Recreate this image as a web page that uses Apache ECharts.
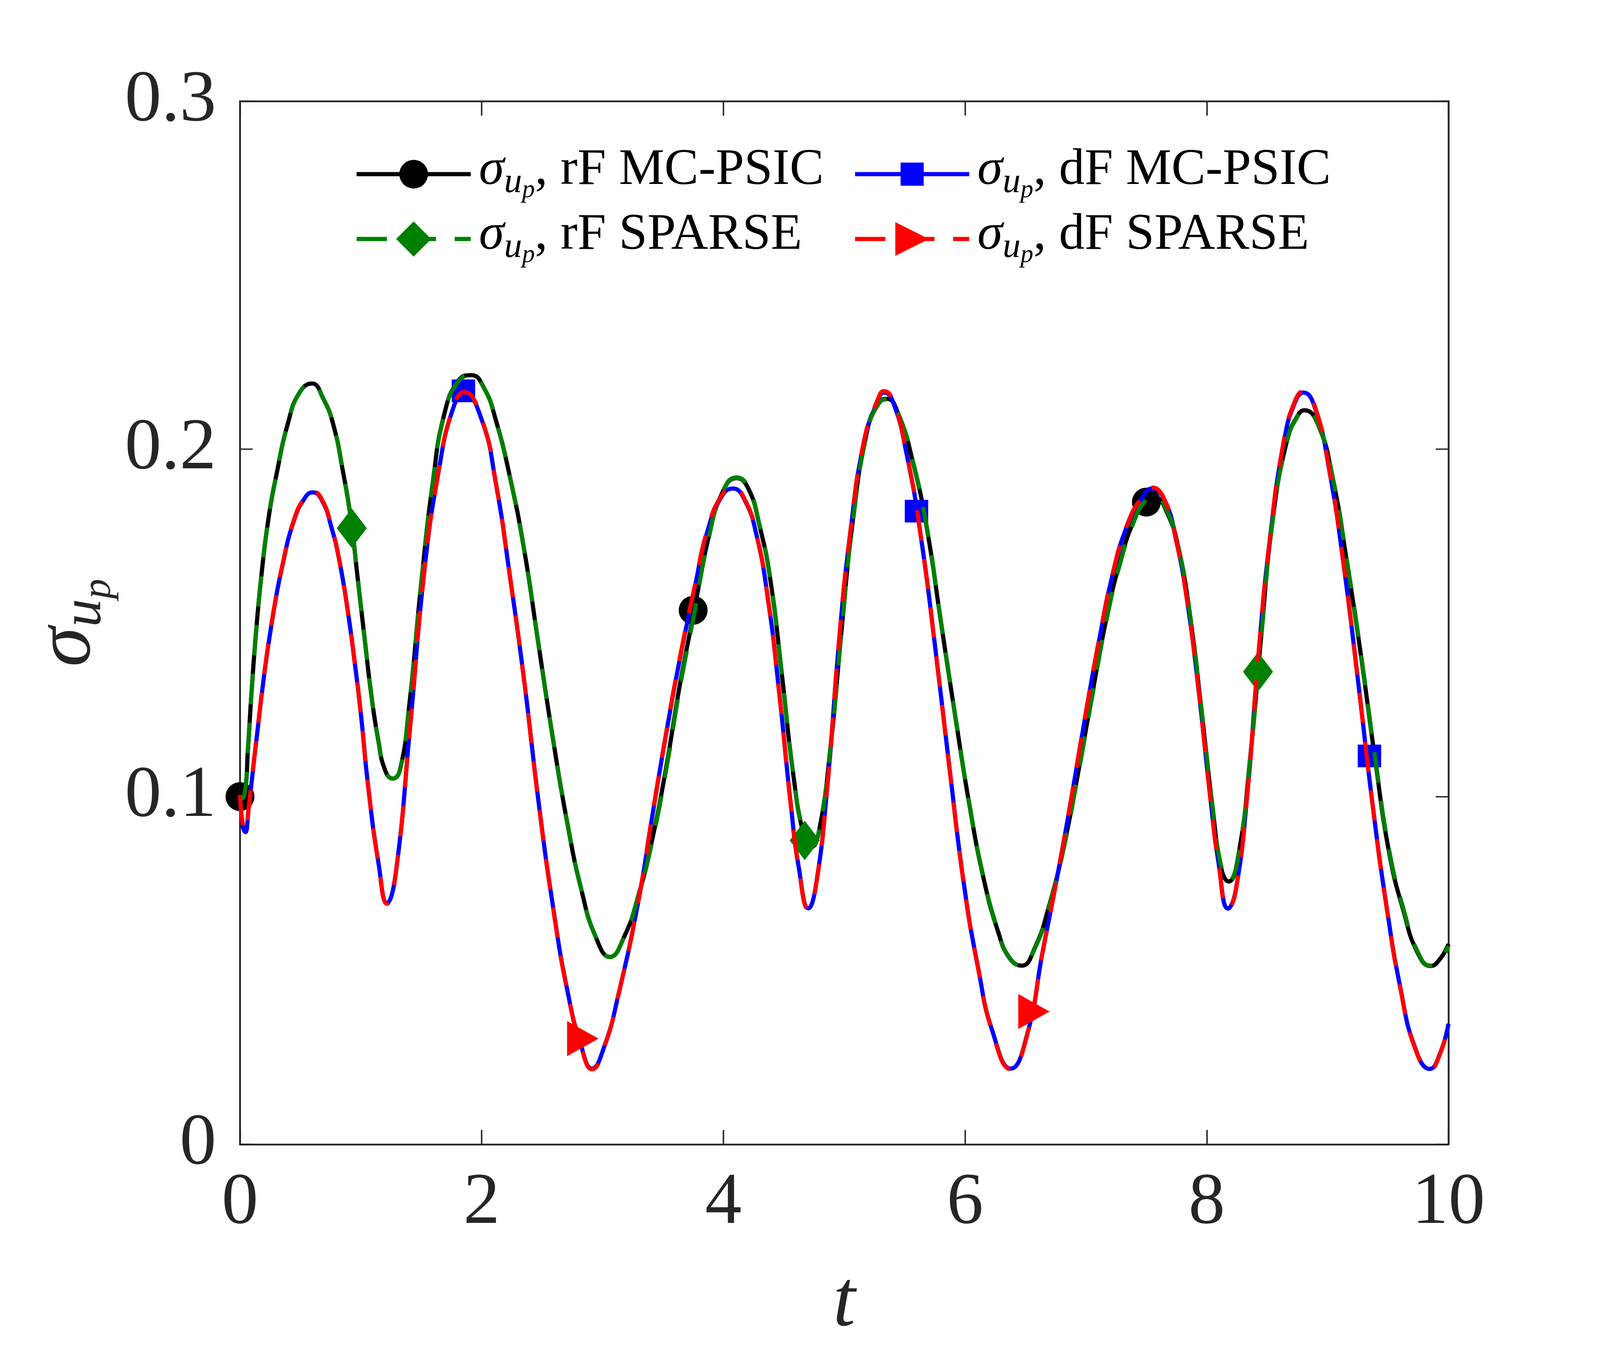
<!DOCTYPE html>
<html>
<head>
<meta charset="utf-8">
<script src="https://cdn.jsdelivr.net/npm/echarts@6/dist/echarts.min.js"></script>
<style>
html,body{margin:0;padding:0;background:#ffffff;overflow:hidden;}
#chart{width:100vw;height:100vh;}
</style>
</head>
<body>
<div id="chart"></div>
<script>
// ---------- data ----------
const xTicks = [0, 2, 4, 6, 8, 10];
const yTicks = [0, 0.1, 0.2, 0.3];

const seriesNames = ['rF MC-PSIC', 'dF MC-PSIC', 'rF SPARSE', 'dF SPARSE'];

// rF MC-PSIC (black solid)
const rfMcPsic = [
  [0,0.100],[0.037,0.101],[0.066,0.1137],[0.094,0.1292],[0.133,0.1473],[0.18,0.1645],[0.236,0.180],
  [0.303,0.1928],[0.397,0.2074],[0.491,0.2161],[0.596,0.2188],[0.69,0.2144],[0.775,0.2066],[0.851,0.1937],
  [0.917,0.180],[0.974,0.1628],[1.031,0.1456],[1.087,0.1292],[1.144,0.1163],[1.2,0.1077],[1.263,0.1052],
  [1.324,0.1077],[1.40,0.1260],[1.501,0.1618],[1.596,0.1904],[1.69,0.2099],[1.809,0.2197],[1.915,0.2212],
  [2.021,0.2174],[2.116,0.2084],[2.234,0.1919],[2.352,0.1709],[2.47,0.1438],[2.589,0.1168],[2.707,0.0927],
  [2.825,0.0732],[2.943,0.0597],[3.061,0.0539],[3.179,0.0597],[3.298,0.0717],[3.41,0.0875],[3.527,0.1085],
  [3.638,0.1318],[3.755,0.1528],[3.873,0.1739],[3.991,0.1874],[4.108,0.1916],[4.202,0.1889],[4.296,0.1784],
  [4.391,0.1618],[4.485,0.1348],[4.579,0.1062],[4.665,0.0890],[4.727,0.0855],[4.791,0.0900],[4.885,0.1137],
  [4.979,0.1483],[5.073,0.1799],[5.191,0.2054],[5.285,0.2132],[5.355,0.2144],[5.449,0.2099],[5.567,0.1964],
  [5.685,0.1769],[5.802,0.1498],[5.92,0.1228],[6.038,0.0972],[6.155,0.0762],[6.273,0.0612],[6.367,0.0536],
  [6.468,0.0514],[6.579,0.0567],[6.696,0.0687],[6.814,0.0852],[6.932,0.1062],[7.05,0.1290],[7.168,0.1510],
  [7.286,0.1680],[7.404,0.1800],[7.49,0.1850],[7.569,0.1859],[7.675,0.1814],[7.769,0.1708],[7.864,0.1513],
  [7.958,0.1242],[8.052,0.0956],[8.122,0.0791],[8.181,0.0756],[8.264,0.0836],[8.358,0.1107],[8.452,0.1468],
  [8.546,0.1798],[8.664,0.2024],[8.758,0.2099],[8.809,0.2111],[8.922,0.2069],[9.04,0.1919],[9.158,0.1678],
  [9.275,0.1408],[9.393,0.1107],[9.511,0.0836],[9.628,0.0671],[9.746,0.0550],[9.852,0.0513],[9.934,0.0535],
  [10,0.0576]
];

// rF SPARSE (green dashed) - practically on top of the black curve
const rfSparse = [
  [0,0.099],[0.037,0.1005],[0.066,0.1135],[0.094,0.1290],[0.133,0.1472],[0.18,0.1645],[0.236,0.180],
  [0.303,0.1928],[0.397,0.2074],[0.491,0.2161],[0.596,0.2188],[0.69,0.2144],[0.775,0.2066],[0.851,0.1937],
  [0.917,0.180],[0.974,0.1628],[1.031,0.1456],[1.087,0.1292],[1.144,0.1163],[1.2,0.1077],[1.263,0.1052],
  [1.324,0.1077],[1.40,0.1260],[1.501,0.1618],[1.596,0.1904],[1.69,0.2099],[1.809,0.2195],[1.915,0.2210],
  [2.021,0.2174],[2.116,0.2084],[2.234,0.1919],[2.352,0.1709],[2.47,0.1438],[2.589,0.1168],[2.707,0.0927],
  [2.825,0.0732],[2.943,0.0597],[3.061,0.0539],[3.179,0.0597],[3.298,0.0717],[3.41,0.0870],[3.527,0.1078],
  [3.638,0.1310],[3.755,0.1520],[3.873,0.1735],[3.991,0.1874],[4.108,0.1918],[4.202,0.1892],[4.296,0.1786],
  [4.391,0.1620],[4.485,0.1350],[4.579,0.1064],[4.665,0.0892],[4.727,0.0857],[4.791,0.0902],[4.885,0.1137],
  [4.979,0.1480],[5.073,0.1795],[5.191,0.2050],[5.285,0.2130],[5.355,0.2143],[5.449,0.2100],[5.567,0.1966],
  [5.685,0.1771],[5.802,0.1500],[5.92,0.1230],[6.038,0.0974],[6.155,0.0764],[6.273,0.0614],[6.367,0.0537],
  [6.468,0.0514],[6.579,0.0565],[6.696,0.0684],[6.814,0.0848],[6.932,0.1058],[7.05,0.1285],[7.168,0.1505],
  [7.286,0.1675],[7.404,0.1797],[7.49,0.1850],[7.569,0.1862],[7.675,0.1818],[7.769,0.1712],[7.864,0.1517],
  [7.958,0.1246],[8.052,0.0960],[8.122,0.0795],[8.181,0.0758],[8.264,0.0836],[8.358,0.1105],[8.452,0.1465],
  [8.546,0.1795],[8.664,0.2022],[8.758,0.2098],[8.809,0.2111],[8.922,0.2070],[9.04,0.1922],[9.158,0.1682],
  [9.275,0.1412],[9.393,0.1112],[9.511,0.0842],[9.628,0.0676],[9.746,0.0553],[9.852,0.0514],[9.934,0.0533],
  [10,0.0570]
];

// dF MC-PSIC (blue solid)
const dfMcPsic = [
  [0,0.100],[0.025,0.0912],[0.045,0.0898],[0.07,0.0960],[0.094,0.1035],[0.142,0.1181],[0.208,0.1370],
  [0.275,0.1525],[0.35,0.1662],[0.444,0.1791],[0.539,0.1860],[0.603,0.1875],[0.681,0.1850],[0.757,0.1774],
  [0.822,0.1679],[0.889,0.1541],[0.946,0.1395],[1.002,0.1233],[1.059,0.1035],[1.147,0.0807],[1.217,0.0694],
  [1.288,0.0777],[1.407,0.1198],[1.525,0.1648],[1.643,0.1934],[1.761,0.2114],[1.856,0.2160],[2.0,0.2084],
  [2.116,0.1904],[2.234,0.1633],[2.352,0.1333],[2.47,0.0987],[2.589,0.0687],[2.707,0.0446],[2.825,0.0281],
  [2.913,0.0218],[3.014,0.0281],[3.132,0.0431],[3.298,0.0702],[3.41,0.0940],[3.52,0.1168],[3.638,0.1393],
  [3.755,0.1588],[3.873,0.1769],[3.991,0.1866],[4.08,0.1886],[4.179,0.1851],[4.273,0.1754],[4.367,0.1573],
  [4.461,0.1303],[4.555,0.0987],[4.626,0.0792],[4.704,0.0679],[4.767,0.0747],[4.861,0.1032],[4.955,0.1438],
  [5.049,0.1754],[5.167,0.2024],[5.285,0.2144],[5.327,0.2162],[5.402,0.2137],[5.52,0.1979],[5.638,0.1739],
  [5.755,0.1423],[5.873,0.1077],[5.991,0.0747],[6.109,0.0506],[6.226,0.0326],[6.379,0.0218],[6.515,0.0318],
  [6.64,0.0550],[6.758,0.0761],[6.875,0.0986],[6.993,0.1227],[7.111,0.1453],[7.228,0.1648],[7.346,0.1783],
  [7.464,0.1859],[7.546,0.1886],[7.652,0.1851],[7.746,0.1738],[7.84,0.1558],[7.934,0.1302],[8.028,0.1002],
  [8.099,0.0806],[8.176,0.0678],[8.24,0.0731],[8.334,0.1002],[8.428,0.1408],[8.522,0.1738],[8.64,0.2024],
  [8.734,0.2137],[8.8,0.2162],[8.899,0.2114],[9.016,0.1934],[9.134,0.1663],[9.252,0.1332],[9.369,0.0986],
  [9.487,0.0686],[9.605,0.0445],[9.722,0.0280],[9.845,0.0217],[9.934,0.0265],[10,0.0347]
];

// dF SPARSE (red dashed) - practically on top of the blue curve
const dfSparse = [
  [0,0.1005],[0.025,0.0915],[0.045,0.0900],[0.07,0.0962],[0.094,0.1037],[0.142,0.1183],[0.208,0.1372],
  [0.275,0.1527],[0.35,0.1664],[0.444,0.1793],[0.539,0.1862],[0.603,0.1877],[0.681,0.1852],[0.757,0.1776],
  [0.822,0.1680],[0.889,0.1542],[0.946,0.1396],[1.002,0.1233],[1.059,0.1035],[1.147,0.0806],[1.217,0.0692],
  [1.288,0.0776],[1.407,0.1197],[1.525,0.1648],[1.643,0.1935],[1.761,0.2116],[1.856,0.2163],[2.0,0.2086],
  [2.116,0.1905],[2.234,0.1633],[2.352,0.1332],[2.47,0.0985],[2.589,0.0685],[2.707,0.0444],[2.825,0.0279],
  [2.913,0.0216],[3.014,0.0280],[3.132,0.0431],[3.298,0.0703],[3.41,0.0942],[3.52,0.1170],[3.638,0.1396],
  [3.755,0.1592],[3.873,0.1773],[3.991,0.1869],[4.08,0.1889],[4.179,0.1853],[4.273,0.1755],[4.367,0.1573],
  [4.461,0.1302],[4.555,0.0985],[4.626,0.0790],[4.704,0.0677],[4.767,0.0746],[4.861,0.1032],[4.955,0.1440],
  [5.049,0.1757],[5.167,0.2028],[5.285,0.2148],[5.327,0.2166],[5.402,0.2140],[5.52,0.1980],[5.638,0.1739],
  [5.755,0.1422],[5.873,0.1075],[5.991,0.0745],[6.109,0.0504],[6.226,0.0324],[6.379,0.0216],[6.515,0.0317],
  [6.64,0.0550],[6.758,0.0762],[6.875,0.0988],[6.993,0.1229],[7.111,0.1455],[7.228,0.1651],[7.346,0.1786],
  [7.464,0.1862],[7.546,0.1889],[7.652,0.1853],[7.746,0.1739],[7.84,0.1558],[7.934,0.1301],[8.028,0.1000],
  [8.099,0.0804],[8.176,0.0676],[8.24,0.0730],[8.334,0.1002],[8.428,0.1410],[8.522,0.1741],[8.64,0.2028],
  [8.734,0.2141],[8.8,0.2166],[8.899,0.2117],[9.016,0.1936],[9.134,0.1664],[9.252,0.1332],[9.369,0.0985],
  [9.487,0.0684],[9.605,0.0443],[9.722,0.0278],[9.845,0.0215],[9.934,0.0264],[10,0.0347]
];

// marker positions
const rfMcPsicMarks = [[0,0.100],[3.75,0.1536],[7.5,0.1847]];
const dfMcPsicMarks = [[1.849,0.2167],[5.598,0.1821],[9.346,0.1117]];
const rfSparseMarks = [[0.925,0.1772],[4.673,0.0874],[8.424,0.1359]];
const dfSparseMarks = [[2.837,0.0304],[6.57,0.0382]];

// ---------- chart ----------
const FONT = "'Liberation Serif', 'DejaVu Serif', serif";
const AXIS_COLOR = '#262626';
const dom = document.getElementById('chart');
const W = dom.clientWidth || 4667, H = dom.clientHeight || 3500;
// design is made for 4667 x 3500; stretch it to whatever the window really is
const kx = W / 4667, ky = H / 3500, kf = Math.sqrt(kx * ky);
const sx = v => v * kx, sy = v => v * ky, sf = v => v * kf;

const LW = sf(11.5);
const DASH = [sf(83), sf(51)];

const chart = echarts.init(dom, null, {renderer: 'canvas'});

const legendRich = {
  s: {fontFamily: FONT, fontStyle: 'italic', fontSize: sf(140), color: '#000', verticalAlign: 'bottom', padding: [0, 0, sf(21), sx(18)]},
  u: {fontFamily: FONT, fontStyle: 'italic', fontSize: sf(98), color: '#000', verticalAlign: 'bottom', padding: [0, 0, sf(8), 0]},
  p: {fontFamily: FONT, fontStyle: 'italic', fontSize: sf(70), color: '#000', verticalAlign: 'bottom', padding: [0, 0, 0, 0]},
  t: {fontFamily: FONT, fontSize: sf(140), color: '#000', verticalAlign: 'bottom', padding: [0, 0, sf(21), 0]}
};
function legendFmt(name) {
  return '{s|σ}{u|u}{p|p}{t|, ' + name + '}';
}
function mkLegend(name, left, centerY, itemHeight, color, dashed) {
  // 80.5 = half of the rich text block height (140 + 21)
  return {
    data: [name], left: sx(left), top: sy(centerY) - sf(80.5), padding: 0, orient: 'horizontal',
    itemWidth: sx(333), itemHeight: sf(itemHeight), itemGap: 0, selectedMode: false,
    formatter: legendFmt,
    lineStyle: {color: color, width: LW, type: dashed ? DASH : 'solid', cap: 'butt', opacity: 1},
    itemStyle: {color: color, borderWidth: 0, opacity: 1},
    textStyle: {fontFamily: FONT, fontSize: sf(140), color: '#000', rich: legendRich}
  };
}

function axisCommon(horizontal) {
  return {
    axisLine: {show: true, onZero: false, lineStyle: {color: AXIS_COLOR, width: sf(5)}},
    axisTick: {show: true, inside: true, length: horizontal ? sy(37) : sx(37), lineStyle: {color: AXIS_COLOR, width: sf(4)}},
    splitLine: {show: false}
  };
}

function lineSeries(name, data, color, dashed, symbol, rotate, z) {
  return {
    name: name, type: 'line', data: data, z: z,
    smooth: 0.5,
    showSymbol: false, symbol: symbol, symbolRotate: rotate,
    lineStyle: {color: color, width: LW, type: dashed ? DASH : 'solid', cap: 'butt'},
    itemStyle: {color: color, borderWidth: 0},
    silent: true, animation: false
  };
}
function markSeries(name, data, color, symbol, size, rotate, z) {
  return {
    name: name, type: 'scatter', data: data, z: z,
    symbol: symbol, symbolSize: Array.isArray(size) ? size.map(sf) : sf(size), symbolRotate: rotate,
    itemStyle: {color: color, borderWidth: 0, opacity: 1},
    silent: true, animation: false
  };
}

const option = {
  backgroundColor: '#ffffff',
  animation: false,
  grid: {left: sx(700), top: sy(259), width: sx(3525), height: sy(2671), containLabel: false, outerBoundsMode: 'none', show: false},
  legend: [
    mkLegend(seriesNames[0], 1034, 446, 98, '#000000', false),
    mkLegend(seriesNames[1], 2488, 446, 79, '#0000ff', false),
    mkLegend(seriesNames[2], 1034, 612, 120, '#008000', true),
    mkLegend(seriesNames[3], 2488, 612, 115, '#ff0000', true)
  ],
  xAxis: [
    Object.assign(axisCommon(true), {
      type: 'value', position: 'bottom', min: xTicks[0], max: xTicks[xTicks.length - 1], interval: 2,
      axisLabel: {show: true, fontFamily: FONT, fontSize: sf(200), color: AXIS_COLOR, margin: sy(58)},
      name: 't', nameLocation: 'middle', nameGap: sy(306),
      nameTextStyle: {fontFamily: FONT, fontStyle: 'italic', fontSize: sf(220), color: AXIS_COLOR}
    }),
    Object.assign(axisCommon(true), {
      type: 'value', position: 'top', min: xTicks[0], max: xTicks[xTicks.length - 1], interval: 2,
      axisLabel: {show: false}
    })
  ],
  yAxis: [
    Object.assign(axisCommon(false), {
      type: 'value', position: 'left', min: yTicks[0], max: yTicks[yTicks.length - 1], interval: 0.1,
      axisLabel: {show: true, fontFamily: FONT, fontSize: sf(200), color: AXIS_COLOR, margin: sx(69),
        formatter: function (v) { return String(Math.round(v * 10) / 10); }},
      name: '{s|σ}{u|u}{p|p}', nameLocation: 'middle', nameGap: sx(352), nameRotate: 90,
      nameTextStyle: {
        fontFamily: FONT, fontSize: sf(220), color: AXIS_COLOR,
        rich: {
          s: {fontFamily: FONT, fontStyle: 'italic', fontSize: sf(220), color: AXIS_COLOR, verticalAlign: 'bottom', padding: [0, 0, sf(30), 0]},
          u: {fontFamily: FONT, fontStyle: 'italic', fontSize: sf(154), color: AXIS_COLOR, verticalAlign: 'bottom', padding: [0, 0, sf(16), 0]},
          p: {fontFamily: FONT, fontStyle: 'italic', fontSize: sf(110), color: AXIS_COLOR, verticalAlign: 'bottom', padding: [0, 0, 0, 0]}
        }
      }
    }),
    Object.assign(axisCommon(false), {
      type: 'value', position: 'right', min: yTicks[0], max: yTicks[yTicks.length - 1], interval: 0.1,
      axisLabel: {show: false}
    })
  ],
  series: [
    lineSeries(seriesNames[0], rfMcPsic, '#000000', false, 'circle', 0, 2),
    markSeries('rF MC-PSIC markers', rfMcPsicMarks, '#000000', 'circle', 79, 0, 3),
    lineSeries(seriesNames[1], dfMcPsic, '#0000ff', false, 'rect', 0, 4),
    markSeries('dF MC-PSIC markers', dfMcPsicMarks, '#0000ff', 'rect', [64, 62], 0, 5),
    lineSeries(seriesNames[2], rfSparse, '#008000', true, 'diamond', 0, 6),
    markSeries('rF SPARSE markers', rfSparseMarks, '#008000', 'diamond', [82, 108], 0, 7),
    lineSeries(seriesNames[3], dfSparse, '#ff0000', true, 'triangle', -90, 8),
    markSeries('dF SPARSE markers', dfSparseMarks, '#ff0000', 'triangle', [96, 86], -90, 9)
  ]
};
chart.setOption(option);
</script>
</body>
</html>
